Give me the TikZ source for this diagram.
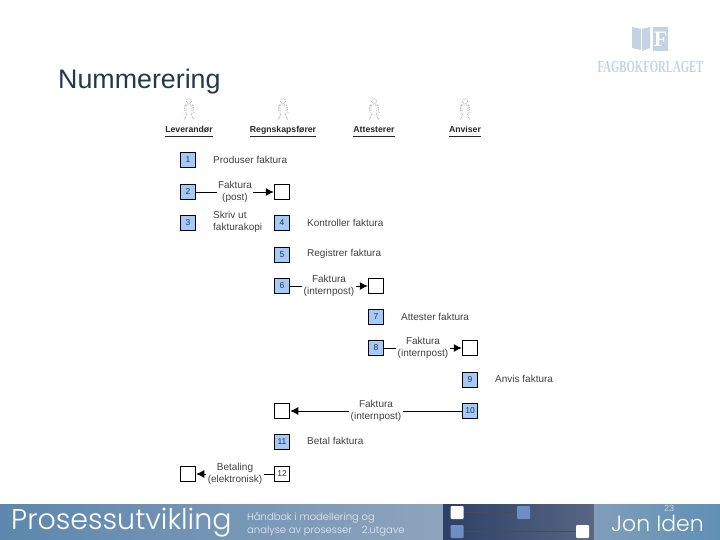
\documentclass[tikz,border=0pt]{standalone}
\usepackage{fontspec}
\usepackage{xcolor}
\setmainfont{Liberation Sans}
\newfontfamily\footfont{Poppins Light}
\newfontfamily\logofont{Liberation Serif}
\usetikzlibrary{arrows.meta, positioning, calc, shadings}
\definecolor{taskblue}{HTML}{A3CAF8}
\definecolor{titleink}{HTML}{1E3A4C}
\definecolor{logoblue}{HTML}{C3D3E4}
\definecolor{bandleft}{HTML}{5D87AE}
\definecolor{bandmid}{HTML}{8EA4BC}
\definecolor{bandright}{HTML}{5F90B5}
\definecolor{banddark}{HTML}{2D4065}
\definecolor{knobblue}{HTML}{6F8FC4}
\tikzset{
  taskbox/.style={draw=black, line width=1pt, minimum size=15.5pt, inner sep=0pt,
                  font=\fontsize{8.5}{9}\selectfont, text=black!80},
  docbox/.style={taskbox, fill=white},
  steplbl/.style={right, inner sep=0pt, align=left, text=black!75,
                  font=\fontsize{10}{12}\selectfont},
  flowlbl/.style={fill=white, inner sep=1.5pt, align=center, text=black!75,
                  font=\fontsize{10}{12}\selectfont},
  flow/.style={draw=black, line width=0.9pt, -{Latex[length=8pt,width=8pt]}},
  rolelbl/.style={anchor=base, inner sep=0pt, text=black!85, font=\bfseries\fontsize{8.7}{10}\selectfont},
  knob/.style={minimum size=13pt, inner sep=0pt, rounded corners=1pt}
}
\begin{document}
\begin{tikzpicture}[x=1pt, y=-1pt]
  \useasboundingbox (0,0) rectangle (720,540);
  %% title and logo
  \node[right, inner sep=0pt, text=titleink, font=\fontsize{26.8}{28}\selectfont] (title) at (58,82) {Nummerering};
  \fill[logoblue] (632,27) -- (641,29) -- (641,50) -- (632,48) -- cycle;
  \fill[logoblue] (642,29) -- (650,27) -- (650,48) -- (642,51) -- cycle;
  \fill[logoblue] (653,27) rectangle (668,51);
  \node[inner sep=0pt, text=white, font=\logofont\bfseries\fontsize{22}{24}\selectfont] (logof) at (660.5,39) {F};
  \node[inner sep=0pt, xscale=0.63, text=logoblue, font=\logofont\bfseries\fontsize{17}{18}\selectfont] (logotxt) at (650.5,66.5) {FAGBOKFORLAGET};
  %% roles
  \foreach \x/\lbl/\nm in {
      189/Leverandør/lev,
      283/Regnskapsfører/regn,
      374/Attesterer/att,
      465/Anviser/anv} {
    \draw[black!40, densely dotted, line width=0.7pt]
      (\x,101) circle (2.5)
      (\x-4,105) -- (\x+4,105) -- (\x+5,113) (\x-4,105) -- (\x-5,113)
      (\x-3,105) -- (\x-3,114) (\x+3,105) -- (\x+3,114)
      (\x-2,114) -- (\x-5,120) (\x+2,114) -- (\x+5,120);
    \node[rolelbl] (\nm) at (\x,133) {\underline{\rule[-1.8pt]{0pt}{8pt}\lbl}};
  }
  %% numbered tasks
  \foreach \i/\x/\y in {
      1/188/160, 2/188/192, 3/188/223, 4/282/223, 5/282/255, 6/282/286,
      7/376/317, 8/376/348, 9/470/380, 10/470/411, 11/282/442} {
    \node[taskbox, fill=taskblue] (t\i) at (\x,\y) {\i};
  }
  \node[docbox] (t12) at (282,474) {12};
  %% empty boxes
  \foreach \i/\x/\y in {2/282/192, 6/376/286, 8/470/348, 10/282/411, 12/188/474} {
    \node[docbox] (d\i) at (\x,\y) {};
  }
  %% step texts
  \node[steplbl] (s1) at (213,160) {Produser faktura};
  \node[steplbl] (s3) at (213,222) {Skriv ut\\fakturakopi};
  \node[steplbl] (s4) at (307,222.5) {Kontroller faktura};
  \node[steplbl] (s5) at (307,254) {Registrer faktura};
  \node[steplbl] (s7) at (401,316.5) {Attester faktura};
  \node[steplbl] (s9) at (495,379) {Anvis faktura};
  \node[steplbl] (s11) at (307,441) {Betal faktura};
  %% flows
  \draw[flow] (t2) -- node[flowlbl] {Faktura\\(post)} (d2);
  \draw[flow] (t6) -- node[flowlbl] {Faktura\\(internpost)} (d6);
  \draw[flow] (t8) -- node[flowlbl] {Faktura\\(internpost)} (d8);
  \draw[flow] (t10) -- node[flowlbl] {Faktura\\(internpost)} (d10);
  \draw[flow] (t12) -- node[flowlbl] {Betaling\\(elektronisk)} (d12);
  %% footer band
  \shade[left color=bandleft, right color=bandmid] (0,504) rectangle (443,540);
  \shade[left color=banddark, right color=banddark!80!white] (443,504) rectangle (594,540);
  \shade[left color=bandmid!70!bandright, right color=bandright] (594,504) rectangle (720,540);
  \node[right, inner sep=0pt, text=white, font=\footfont\fontsize{28.5}{30}\selectfont] (brand) at (11,523) {Prosessutvikling};
  \node[right, inner sep=0pt, align=left, text=white!85!bandleft, font=\footfont\fontsize{10}{13.5}\selectfont] (sub) at (247,524.5) {Håndbok i modellering og\\analyse av prosesser\quad 2.utgave};
  \node[knob, fill=white] (k1) at (457,512.5) {};
  \node[knob, fill=knobblue] (k2) at (523.5,512.5) {};
  \node[knob, fill=knobblue] (k3) at (457,531.5) {};
  \node[knob, fill=white] (k4) at (582.5,531.5) {};
  \draw[black!70, line width=0.4pt] (k1) -- (k2);
  \draw[black!70, line width=0.4pt] (k3) -- (k4);
  \node[right, inner sep=0pt, text=white, font=\footfont\fontsize{22}{24}\selectfont] (author) at (611,523.5) {Jon Iden};
  \node[inner sep=0pt, text=white!65!bandright, font=\fontsize{9}{10}\selectfont] (page) at (669,508) {23};
\end{tikzpicture}
\end{document}
